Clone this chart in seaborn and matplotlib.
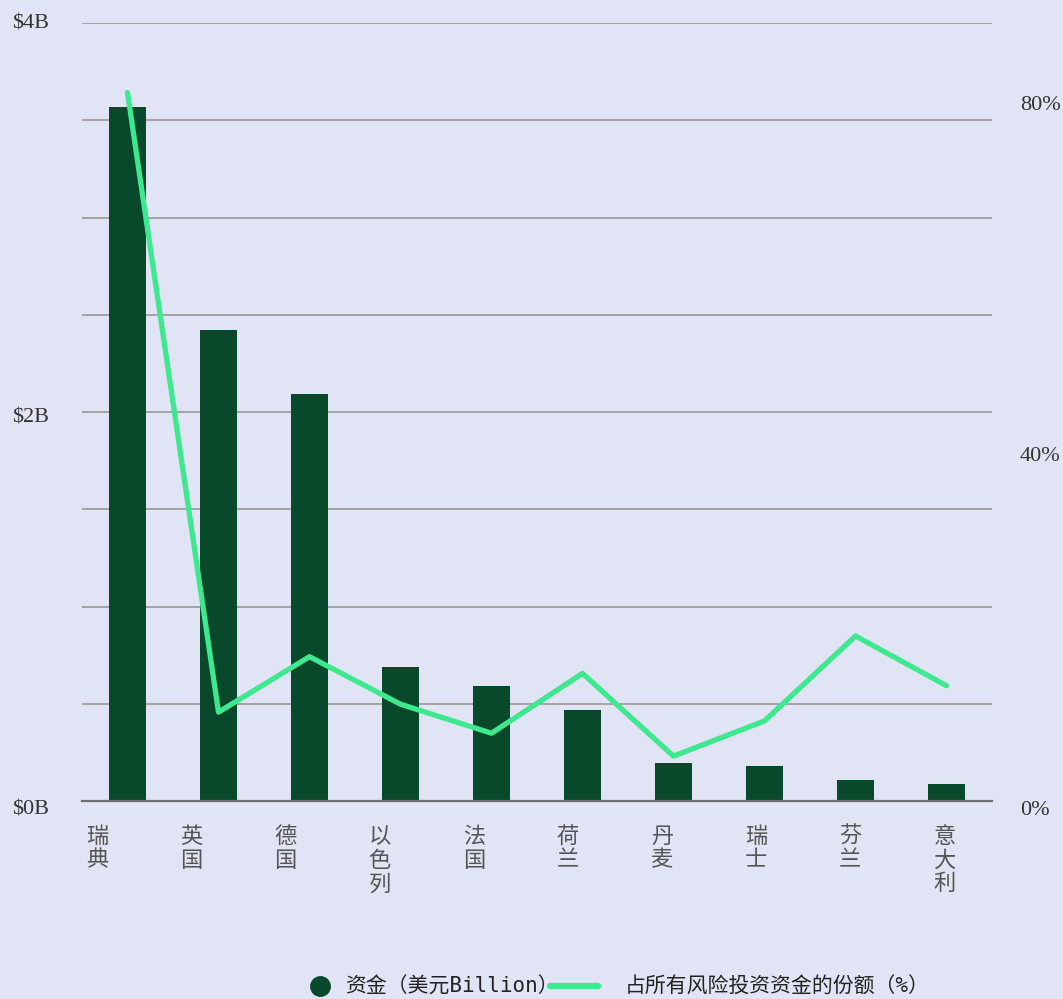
import matplotlib
matplotlib.use("Agg")
import matplotlib.pyplot as plt
from matplotlib.lines import Line2D
import matplotlib.transforms as mtransforms
import seaborn as sns
import pandas as pd

countries = ["瑞典", "英国", "德国", "以色列", "法国", "荷兰", "丹麦", "瑞士", "芬兰", "意大利"]
funding_b = [3.57, 2.42, 2.09, 0.69, 0.59, 0.47, 0.195, 0.18, 0.108, 0.087]
share_pct = [80.5, 10.1, 16.4, 11.0, 7.7, 14.5, 5.1, 9.1, 18.75, 13.1]
left_ticks = [0, 2, 4]
left_labels = ["$0B", "$2B", "$4B"]
right_ticks = [0, 40, 80]
right_labels = ["0%", "40%", "80%"]
legend_labels = ["资金（美元Billion）", "占所有风险投资资金的份额（%）"]

BG = "#E1E4F4"
BAR = "#08492B"
LINE = "#3DE88F"

sns.set_theme(style="white")
plt.rcParams["font.family"] = ["Noto Sans CJK SC", "DejaVu Sans"]

df = pd.DataFrame({"country": countries, "funding": funding_b, "share": share_pct})

fig = plt.figure(figsize=(10.63, 9.99), dpi=100, facecolor=BG)
ax = fig.add_axes([82/1063, 1-801/999, (992-82)/1063, (801-23)/999])
ax.set_facecolor(BG)

sns.barplot(data=df, x="country", y="funding", color=BAR, width=0.4, ax=ax,
            saturation=1, zorder=3, linewidth=0)
ax.set_xlim(-0.5, 9.5)
ax.set_ylim(0, 4)
ax.set_yticks([i * 0.5 for i in range(9)], minor=True)
ax.grid(True, which="minor", axis="y", color="#A3A3A3", linewidth=1.4, zorder=0)
ax.grid(True, which="major", axis="y", color="#A3A3A3", linewidth=1.4, zorder=0)
ax.tick_params(axis="y", which="minor", length=0)
ax.set_yticks(left_ticks)
ax.set_yticklabels(left_labels, family="Liberation Serif", fontsize=16, color="#333333")
ax.tick_params(axis="y", which="major", length=0, pad=50)
left_offsets = [-7, -3, 1]
for lbl, dy in zip(ax.get_yticklabels(), left_offsets):
    lbl.set_horizontalalignment("left")
    lbl.set_transform(lbl.get_transform() + mtransforms.ScaledTranslation(0, dy/100, fig.dpi_scale_trans))
ax.set_xlabel("")
ax.set_ylabel("")
# category labels sit on a slightly wider spacing than the bars in the reference
label_pos = [-0.33 + i * 1.034 for i in range(len(countries))]
ax.set_xticks(label_pos)
ax.set_xticklabels(["\n".join(c) for c in countries], fontsize=16, color="#555555",
                   linespacing=1.05, va="top", fontweight="light")
ax.tick_params(axis="x", length=0, pad=17)
for s in ["top", "right", "left"]:
    ax.spines[s].set_visible(False)
ax.spines["bottom"].set_color("#6E6E6E")
ax.spines["bottom"].set_linewidth(1.6)
ax.spines["bottom"].set_zorder(4)

ax2 = ax.twinx()
sns.lineplot(x=list(range(len(countries))), y=share_pct, ax=ax2, color=LINE,
             linewidth=3.8, solid_capstyle="round", solid_joinstyle="round", zorder=5)
ax2.set_ylim(0, 88.4)
ax2.set_yticks(right_ticks)
ax2.set_yticklabels(right_labels, family="Liberation Serif", fontsize=16, color="#333333")
ax2.tick_params(axis="y", length=0, pad=20)
right_offsets = [-7, -5, -6]
for lbl, dy in zip(ax2.get_yticklabels(), right_offsets):
    lbl.set_transform(lbl.get_transform() + mtransforms.ScaledTranslation(0, dy/100, fig.dpi_scale_trans))
for s in ["top", "right", "left", "bottom"]:
    ax2.spines[s].set_visible(False)
ax2.grid(False)

leg_prop = {"family": ["DejaVu Sans Mono", "Noto Sans CJK SC"], "size": 15}
h_bar = Line2D([0], [0], marker="o", color="none", markerfacecolor=BAR,
               markeredgecolor=BAR, markersize=14)
h_line = Line2D([0], [0], color=LINE, linewidth=4.5, solid_capstyle="round")
y_leg = 1 - 987/999
fig.legend([h_bar], [legend_labels[0]], loc="center left", bbox_to_anchor=(310/1063, y_leg),
           frameon=False, handlelength=1.0, handletextpad=0.67, borderpad=0,
           borderaxespad=0, labelcolor="#222222", prop=leg_prop)
fig.legend([h_line], [legend_labels[1]], loc="center left", bbox_to_anchor=(550/1063, y_leg),
           frameon=False, handlelength=2.3, handletextpad=1.3, borderpad=0,
           borderaxespad=0, labelcolor="#222222", prop=leg_prop)

fig.savefig("out.png", dpi=100, facecolor=BG)
